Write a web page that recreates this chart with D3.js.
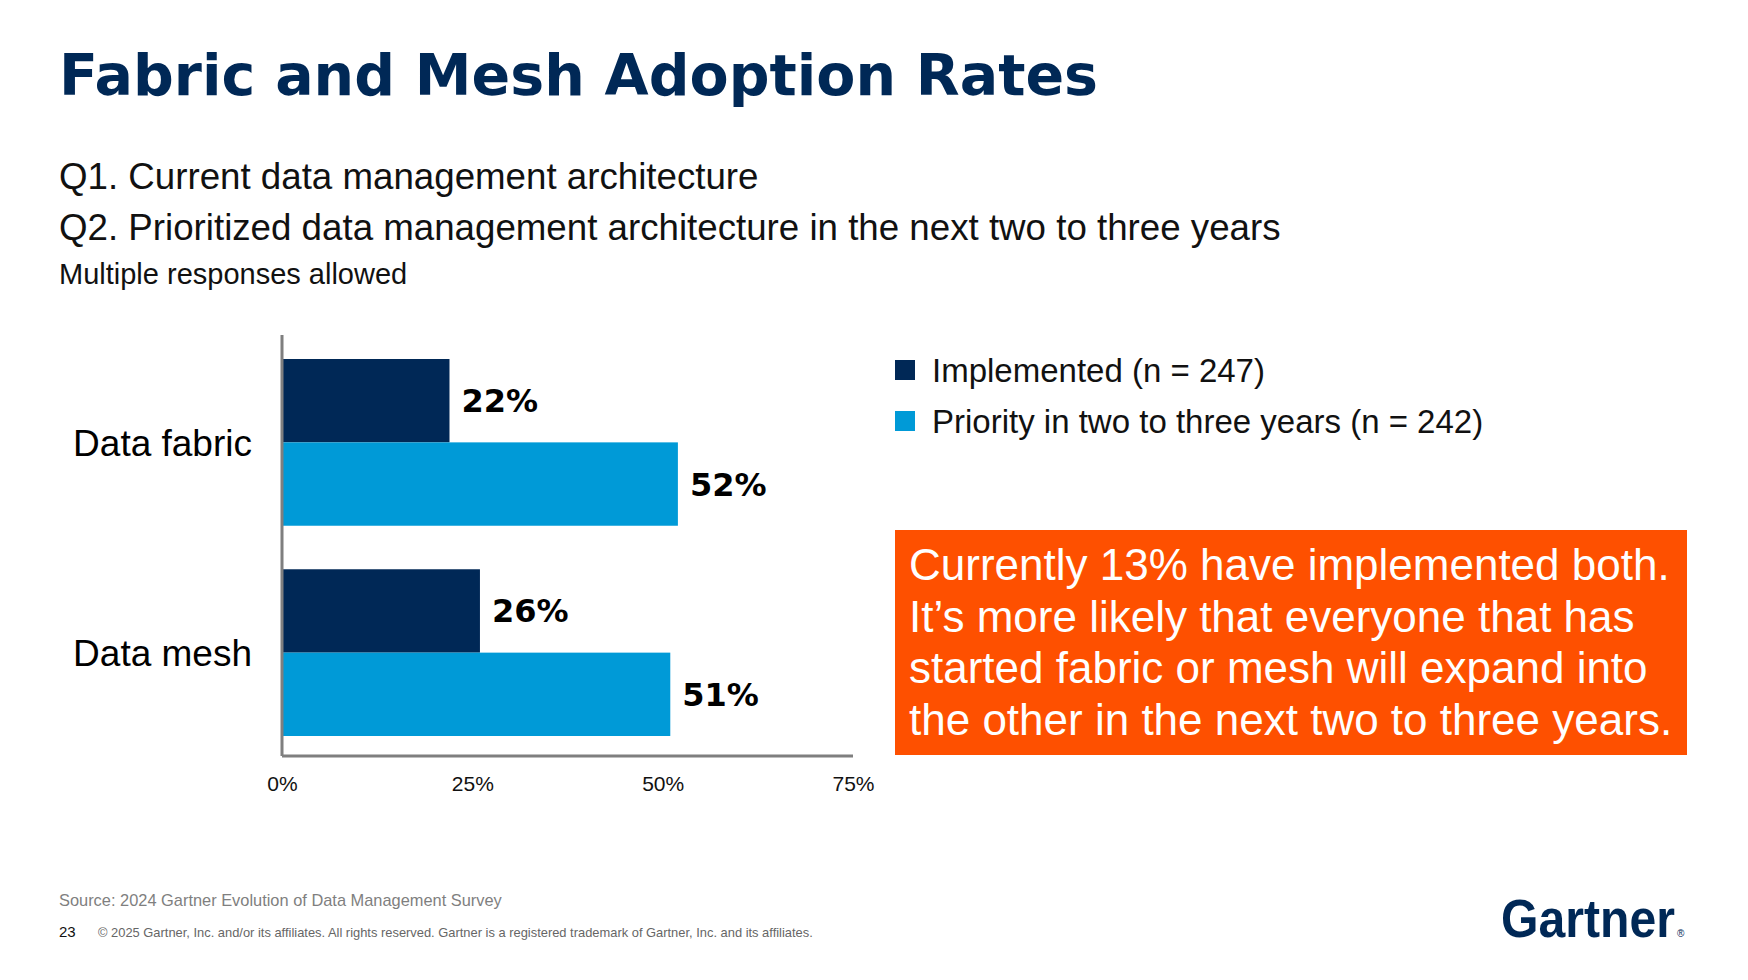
<!DOCTYPE html>
<html><head><meta charset="utf-8">
<script src="https://cdn.jsdelivr.net/npm/d3@7"></script>
<style>body{margin:0;background:#fff}svg{display:block;font-family:"Liberation Sans",Arial,sans-serif}</style>
</head><body>
<svg id="c" width="1748" height="980"></svg>
<script>
const categories = ["Data fabric", "Data mesh"];
const seriesNames = ["Implemented (n = 247)", "Priority in two to three years (n = 242)"];
const implemented = [22, 26];
const priority = [52, 51];
const tickValues = [0, 25, 50, 75];
const calloutLines = ["Currently 13% have implemented both.", "It\u2019s more likely that everyone that has", "started fabric or mesh will expand into", "the other in the next two to three years."];
const colors = ["#002856", "#009AD7"];

const svg = d3.select("#c");
const navy = "#002856";
svg.append("text").attr("x",59).attr("y",95).attr("fill",navy).attr("font-size",57).attr("font-weight",900)
  .attr("font-family","'DejaVu Sans', sans-serif").attr("textLength",1039).attr("lengthAdjust","spacingAndGlyphs").text("Fabric and Mesh Adoption Rates");
svg.append("text").attr("x",59).attr("y",189).attr("font-size",36.7).attr("fill","#111").text("Q1. Current data management architecture");
svg.append("text").attr("x",59).attr("y",240).attr("font-size",36.7).attr("fill","#111").text("Q2. Prioritized data management architecture in the next two to three years");
svg.append("text").attr("x",59).attr("y",284).attr("font-size",29).attr("fill","#111").text("Multiple responses allowed");

const x = d3.scaleLinear().domain([0,75]).range([282,853]);
const y0 = d3.scaleBand().domain(categories).range([359,736]).paddingInner(0.207).paddingOuter(0);
const y1 = d3.scaleBand().domain([0,1]).range([0,y0.bandwidth()]);
const series = [implemented, priority];

categories.forEach((c,i)=>{
  series.forEach((s,j)=>{
    const yy = y0(c)+y1(j);
    svg.append("rect").attr("x",x(0)).attr("y",yy).attr("width",x(s[i])-x(0)).attr("height",y1.bandwidth()).attr("fill",colors[j]);
    svg.append("text").attr("x",x(s[i])+12).attr("y",yy+y1.bandwidth()/2).attr("dy","0.36em")
      .attr("font-size",32).attr("font-weight",900).attr("font-family","'DejaVu Sans', sans-serif").attr("fill","#000").text(s[i]+"%");
  });
  svg.append("text").attr("x",252).attr("y",y0(c)+y0.bandwidth()/2).attr("dy","0.36em").attr("text-anchor","end")
    .attr("font-size",37).attr("fill","#000").text(c);
});

svg.append("line").attr("x1",282).attr("x2",282).attr("y1",335).attr("y2",756).attr("stroke","#7f7f7f").attr("stroke-width",3);
svg.append("line").attr("x1",282).attr("x2",853).attr("y1",756).attr("y2",756).attr("stroke","#7f7f7f").attr("stroke-width",3);
const ax = svg.append("g").attr("transform","translate(0,756)").call(d3.axisBottom(x).tickValues(tickValues).tickFormat(d=>d+"%").tickSize(0).tickPadding(20));
ax.select(".domain").remove();
ax.selectAll("text").attr("font-size",21).attr("fill","#111").attr("font-family","'Liberation Sans',Arial,sans-serif");

seriesNames.forEach((n,j)=>{
  svg.append("rect").attr("x",895).attr("y",360+j*51).attr("width",20).attr("height",20).attr("fill",colors[j]);
  svg.append("text").attr("x",932).attr("y",382+j*51).attr("font-size",33).attr("fill","#111").text(n);
});

svg.append("rect").attr("x",895).attr("y",530).attr("width",792).attr("height",225).attr("fill","#FE5000");
calloutLines.forEach((l,i)=>svg.append("text").attr("x",909).attr("y",580+i*51.5).attr("font-size",44).attr("fill","#fff").text(l));

svg.append("text").attr("x",59).attr("y",906).attr("font-size",16.4).attr("fill","#7f7f7f").text("Source: 2024 Gartner Evolution of Data Management Survey");
svg.append("text").attr("x",59).attr("y",937).attr("font-size",15).attr("fill","#111").text("23");
svg.append("text").attr("x",98).attr("y",937).attr("font-size",12.9).attr("fill","#666").text("\u00a9 2025 Gartner, Inc. and/or its affiliates. All rights reserved. Gartner is a registered trademark of Gartner, Inc. and its affiliates.");
svg.append("text").attr("x",1501).attr("y",937).attr("font-size",54).attr("font-weight",700).attr("fill",navy)
  .attr("textLength",174).attr("lengthAdjust","spacingAndGlyphs").text("Gartner");
svg.append("text").attr("x",1677).attr("y",937).attr("font-size",10).attr("fill",navy).text("\u00ae");
</script>
</body></html>
